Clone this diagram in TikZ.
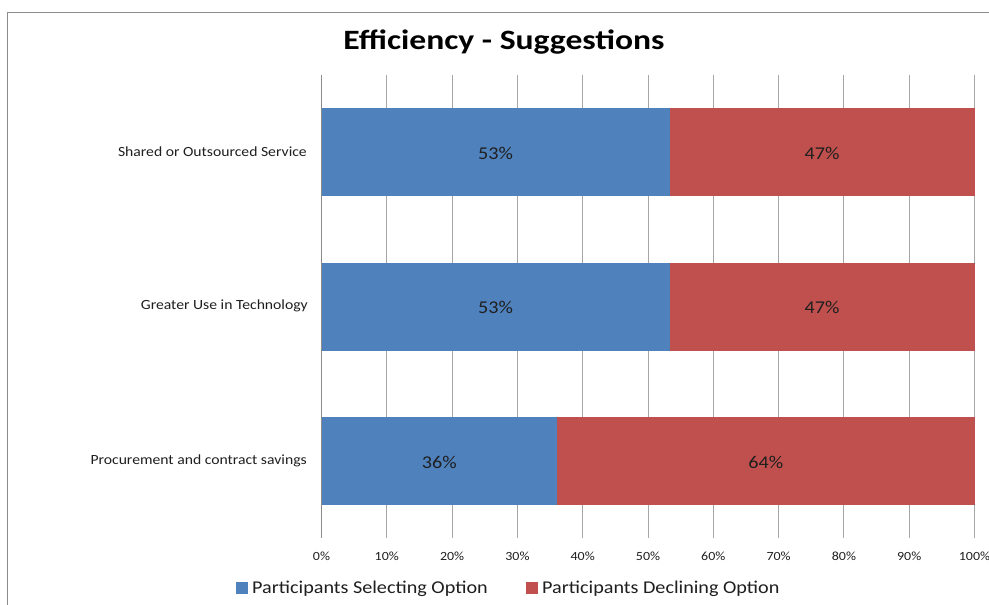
\documentclass[tikz,border=0pt]{standalone}
\usepackage{fontspec}
\setmainfont{Carlito}
\newfontfamily\widefont[FakeStretch=1.12]{Carlito}
\newfontfamily\titlefont[FakeStretch=1.2]{Carlito}
\definecolor{barblue}{HTML}{4F81BD}
\definecolor{barred}{HTML}{C0504D}
\definecolor{gridgray}{HTML}{A6A6A6}
\definecolor{framegray}{HTML}{8C8C8C}
\definecolor{txt}{HTML}{1F1F1F}
\begin{document}
\begin{tikzpicture}[x=1pt,y=-1pt,
  grid/.style={gridgray,line width=1pt},
  selbar/.style={fill=barblue,draw=none},
  decbar/.style={fill=barred,draw=none},
  catlabel/.style={anchor=east,inner sep=0pt,font=\widefont\fontsize{14}{16}\selectfont,text=txt},
  vallabel/.style={inner sep=0pt,font=\widefont\fontsize{18}{20}\selectfont,text=txt},
  ticklabel/.style={inner sep=0pt,font=\widefont\fontsize{12.5}{14}\selectfont,text=txt},
  legtext/.style={anchor=west,inner sep=0pt,font=\widefont\fontsize{18}{20}\selectfont,text=txt},
  legbox/.style={minimum size=12pt,inner sep=0pt}]
\useasboundingbox (0,0) rectangle (989,605);
\fill[white] (0,0) rectangle (989,605);
% frame
\draw[framegray,line width=1pt] (7.5,605) -- (7.5,12.5) -- (989,12.5);
% title
\node[font=\titlefont\fontsize{28}{30}\selectfont\bfseries] (title) at (504,42) {Efficiency - Suggestions};
% grid lines
\foreach \i in {1,...,10} {
  \draw[grid] ({321.5+65.3*\i},75) -- ({321.5+65.3*\i},538);
}
\draw[framegray,line width=1pt] (321.5,75) -- (321.5,538);
% bars
\def\xz{321.5}\def\w{653}
\fill[selbar] (\xz,108) rectangle ({\xz+0.533*\w},196);
\fill[decbar] ({\xz+0.533*\w},108) rectangle ({\xz+\w},196);
\fill[selbar] (\xz,263) rectangle ({\xz+0.533*\w},351);
\fill[decbar] ({\xz+0.533*\w},263) rectangle ({\xz+\w},351);
\fill[selbar] (\xz,417) rectangle ({\xz+0.361*\w},505);
\fill[decbar] ({\xz+0.361*\w},417) rectangle ({\xz+\w},505);
% value labels
\node[vallabel] (v1a) at ({\xz+0.2665*\w},153) {53\%};
\node[vallabel] (v1b) at ({\xz+0.7665*\w},153) {47\%};
\node[vallabel] (v2a) at ({\xz+0.2665*\w},307) {53\%};
\node[vallabel] (v2b) at ({\xz+0.7665*\w},307) {47\%};
\node[vallabel] (v3a) at ({\xz+0.1805*\w},462) {36\%};
\node[vallabel] (v3b) at ({\xz+0.6805*\w},462) {64\%};
% category labels
\node[catlabel] (c1) at (307,152) {Shared or Outsourced Service};
\node[catlabel] (c2) at (308,306) {Greater Use in Technology};
\node[catlabel] (c3) at (307,461) {Procurement and contract savings};
% tick labels
\foreach \i in {0,...,10} {
  \pgfmathtruncatemacro{\p}{10*\i}
  \node[ticklabel] (t\i) at ({321.5+65.3*\i},556) {\p\%};
}
% legend
\node[legbox,fill=barblue] (lb1) at (242,588) {};
\node[legtext] (lt1) at (252,589) {Participants Selecting Option};
\node[legbox,fill=barred] (lb2) at (532,588) {};
\node[legtext] (lt2) at (542,589) {Participants Declining Option};
\end{tikzpicture}
\end{document}
